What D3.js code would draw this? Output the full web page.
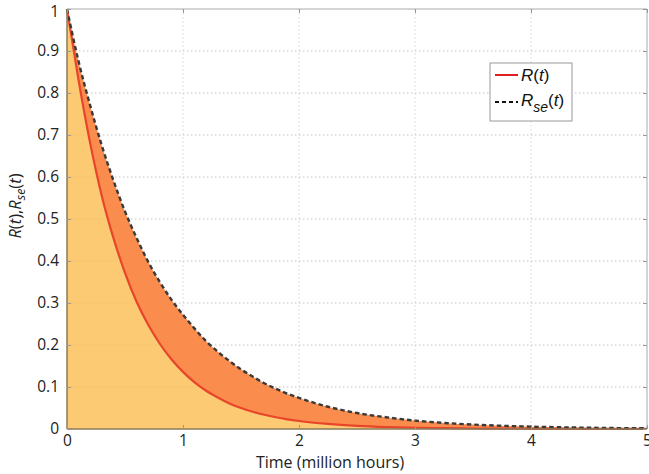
<!DOCTYPE html>
<html><head><meta charset="utf-8">
<script src="https://cdn.jsdelivr.net/npm/d3@7"></script>
<style>body{margin:0;background:#fff}svg{display:block}</style>
</head><body>
<svg id="c" width="649" height="474"></svg>
<script>
const times = [0,0.1,0.2,0.3,0.4,0.5,0.6,0.7,0.8,0.9,1.0,1.1,1.2,1.3,1.4,1.5,1.6,1.7,1.8,1.9,2.0,2.25,2.5,2.75,3.0,3.25,3.5,3.75,4.0,4.25,4.5,4.75,5.0];
const R   = [1,0.83,0.68,0.555,0.455,0.372,0.303,0.248,0.203,0.166,0.136,0.111,0.091,0.075,0.061,0.050,0.041,0.034,0.028,0.023,0.019,0.012,0.0075,0.0047,0.003,0.0019,0.0012,0.0008,0.0005,0.0003,0.0002,0.0001,0.0001];
const Rse = [1,0.875,0.77,0.675,0.592,0.518,0.455,0.398,0.35,0.308,0.272,0.239,0.209,0.184,0.162,0.142,0.125,0.109,0.096,0.084,0.074,0.053,0.038,0.028,0.020,0.0145,0.0105,0.0077,0.0056,0.0041,0.003,0.0022,0.0016];
const xTicks = [0,1,2,3,4,5];
const yTicks = [0,0.1,0.2,0.3,0.4,0.5,0.6,0.7,0.8,0.9,1];

const svg = d3.select('#c');
const L=67, Rr=647, T=9, B=429;
const x = d3.scaleLinear().domain([0,5]).range([L,Rr]);
const y = d3.scaleLinear().domain([0,1]).range([B,T]);
const pts = times.map((t,i)=>({t, r:R[i], s:Rse[i]}));

// grid
const g = svg.append('g');
g.selectAll('.gx').data(xTicks.slice(1,-1)).join('line')
 .attr('x1',d=>x(d)).attr('x2',d=>x(d)).attr('y1',T).attr('y2',B)
 .attr('stroke','#d8d8d8').attr('stroke-dasharray','1.5,2.5');
g.selectAll('.gy').data(yTicks.slice(1,-1)).join('line')
 .attr('y1',d=>y(d)).attr('y2',d=>y(d)).attr('x1',L).attr('x2',Rr)
 .attr('stroke','#d8d8d8').attr('stroke-dasharray','1.5,2.5');

// fills
svg.append('path').datum(pts)
 .attr('d', d3.area().x(d=>x(d.t)).y0(y(0)).y1(d=>y(d.r)).curve(d3.curveMonotoneX))
 .attr('fill','#fcca72');
svg.append('path').datum(pts)
 .attr('d', d3.area().x(d=>x(d.t)).y0(d=>y(d.r)).y1(d=>y(d.s)).curve(d3.curveMonotoneX))
 .attr('fill','#fa8c4e');

// grid over fill (faint)
svg.selectAll('.gyo').data(yTicks.slice(1,-1)).join('line')
 .attr('y1',d=>y(d)).attr('y2',d=>y(d)).attr('x1',L).attr('x2',Rr)
 .attr('stroke','rgba(200,160,80,0.25)').attr('stroke-dasharray','1.5,2.5');

// lines
svg.append('path').datum(pts)
 .attr('d', d3.line().x(d=>x(d.t)).y(d=>y(d.r)).curve(d3.curveMonotoneX))
 .attr('fill','none').attr('stroke','#e8452b').attr('stroke-width',2.2);
svg.append('path').datum(pts)
 .attr('d', d3.line().x(d=>x(d.t)).y(d=>y(d.s)).curve(d3.curveMonotoneX))
 .attr('fill','none').attr('stroke','#3a3a3a').attr('stroke-width',2.4).attr('stroke-dasharray','4.5,3');

// box
svg.append('line').attr('x1',L).attr('x2',Rr).attr('y1',T).attr('y2',T).attr('stroke','#aaa');
svg.append('line').attr('x1',Rr).attr('x2',Rr).attr('y1',T).attr('y2',B).attr('stroke','#aaa');
svg.append('line').attr('x1',L).attr('x2',Rr).attr('y1',B).attr('y2',B).attr('stroke','#8a7a5a').attr('stroke-width',1.5);
svg.append('line').attr('x1',L).attr('x2',L).attr('y1',T).attr('y2',B).attr('stroke','#8a7a5a').attr('stroke-width',1.5);

// axes
const ax = svg.append('g').attr('transform',`translate(0,${B})`)
 .call(d3.axisBottom(x).tickValues(xTicks).tickFormat(d3.format('d')).tickSize(-4).tickPadding(4));
const ay = svg.append('g').attr('transform',`translate(${L},0)`)
 .call(d3.axisLeft(y).tickValues(yTicks).tickFormat(d=>d===0||d===1?d3.format('d')(d):d3.format('.1f')(d)).tickSize(-4).tickPadding(8));
const ay2 = svg.append('g').attr('transform',`translate(${Rr},0)`)
 .call(d3.axisRight(y).tickValues(yTicks).tickFormat('').tickSize(-4));
const ax2 = svg.append('g').attr('transform',`translate(0,${T})`)
 .call(d3.axisTop(x).tickValues(xTicks).tickFormat('').tickSize(-4));
[ax,ay,ay2,ax2].forEach(a=>{a.select('.domain').remove();a.selectAll('line').attr('stroke','#999');});
[ax,ay].forEach(a=>a.selectAll('text').attr('font-family','Open Sans, sans-serif').attr('font-size',15.5).attr('fill','#222'));
ax.selectAll('text').attr('dy','0.85em');
ay.selectAll('text').filter(d=>d===1).attr('dy','0.5em');

// axis titles
svg.append('text').attr('x',330).attr('y',468).attr('text-anchor','middle')
 .attr('font-family','Open Sans, sans-serif').attr('font-size',16).attr('fill','#222').text('Time (million hours)');
const yt = svg.append('text').attr('transform','translate(21,206) rotate(-90)').attr('text-anchor','middle')
 .attr('font-family','Open Sans, sans-serif').attr('font-size',16.5).attr('fill','#222');
yt.append('tspan').attr('font-style','italic').text('R');
yt.append('tspan').text('(');
yt.append('tspan').attr('font-style','italic').text('t');
yt.append('tspan').text('),');
yt.append('tspan').attr('font-style','italic').text('R');
yt.append('tspan').attr('font-style','italic').attr('font-size',12.5).attr('dy',4).text('se');
yt.append('tspan').attr('dy',-4).text('(');
yt.append('tspan').attr('font-style','italic').text('t');
yt.append('tspan').text(')');

// legend
const lg = svg.append('g');
lg.append('rect').attr('x',490).attr('y',63).attr('width',82).attr('height',58).attr('fill','#fff').attr('stroke','#999');
lg.append('line').attr('x1',495).attr('x2',518).attr('y1',75).attr('y2',75).attr('stroke','#e02020').attr('stroke-width',2);
lg.append('line').attr('x1',495).attr('x2',518).attr('y1',102).attr('y2',102).attr('stroke','#111').attr('stroke-width',2).attr('stroke-dasharray','4,3');
const t1 = lg.append('text').attr('x',521).attr('y',81).attr('font-family','Liberation Sans, Arial, sans-serif').attr('font-size',17).attr('fill','#111');
t1.append('tspan').attr('font-style','italic').text('R');
t1.append('tspan').text('(');
t1.append('tspan').attr('font-style','italic').text('t');
t1.append('tspan').text(')');
const t2 = lg.append('text').attr('x',521).attr('y',106).attr('font-family','Liberation Sans, Arial, sans-serif').attr('font-size',17).attr('fill','#111');
t2.append('tspan').attr('font-style','italic').text('R');
t2.append('tspan').attr('font-style','italic').attr('font-size',14).attr('dy',6).text('se');
t2.append('tspan').attr('dy',-6).text('(');
t2.append('tspan').attr('font-style','italic').text('t');
t2.append('tspan').text(')');
</script>
</body></html>
